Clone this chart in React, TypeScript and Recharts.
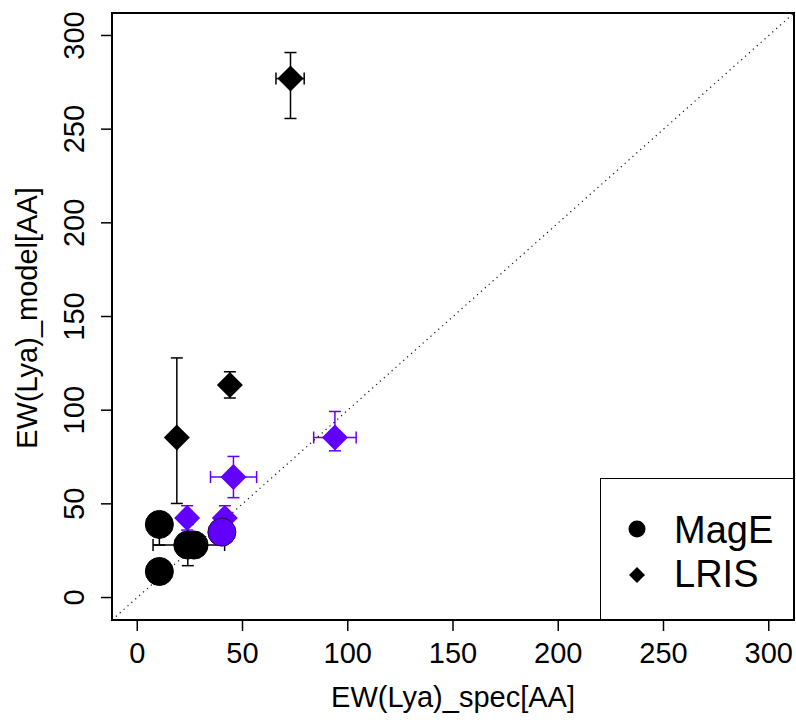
import React from "react";
import {
  ErrorBar,
  ReferenceArea,
  ReferenceLine,
  Scatter,
  ScatterChart,
  XAxis,
  YAxis,
} from "recharts";

const TICKS = [0, 50, 100, 150, 200, 250, 300];
const LIMITS = [-12, 312];
const PURPLE = "#6200ff";
const FONT = "'Liberation Sans', Arial, Helvetica, sans-serif";

// MagE (circles)
const MAGE_BLACK_X = [10.5, 24, 27, 10.5];
const MAGE_BLACK_Y = [39, 28, 28, 13.9];
const MAGE_BLACK_XERR: (number | number[])[] = [0, [16.5, 17.5], 0, 0];
const MAGE_BLACK_YERR: (number | number[])[] = [[11, 3], [11, 11], 0, 0];
const MAGE_PURPLE_X = [40.2];
const MAGE_PURPLE_Y = [34.9];

// LRIS (diamonds)
const LRIS_BLACK_X = [18.8, 44.0, 72.8];
const LRIS_BLACK_Y = [85.4, 113.5, 277];
const LRIS_BLACK_XERR: (number | number[])[] = [0, 0, [6.9, 6.5]];
const LRIS_BLACK_YERR: (number | number[])[] = [[35.2, 42.5], [7, 7], [21.3, 13.9]];
const LRIS_PURPLE_X = [93.9, 45.7, 23.7, 41.6];
const LRIS_PURPLE_Y = [85.4, 64.3, 42.5, 42.5];
const LRIS_PURPLE_XERR: (number | number[])[] = [[10.1, 10.1], [10.9, 11], 0, 0];
const LRIS_PURPLE_YERR: (number | number[])[] = [[7.1, 13.9], [11, 11], [6.5, 6.5], [6.5, 6.5]];

function rows(xs: number[], ys: number[], ex?: (number | number[])[], ey?: (number | number[])[]) {
  return xs.map((x, i) => ({ x, y: ys[i], ex: ex ? ex[i] : 0, ey: ey ? ey[i] : 0 }));
}

const mageBlack = rows(MAGE_BLACK_X, MAGE_BLACK_Y, MAGE_BLACK_XERR, MAGE_BLACK_YERR);
const magePurple = rows(MAGE_PURPLE_X, MAGE_PURPLE_Y);
const lrisBlack = rows(LRIS_BLACK_X, LRIS_BLACK_Y, LRIS_BLACK_XERR, LRIS_BLACK_YERR);
const lrisPurple = rows(LRIS_PURPLE_X, LRIS_PURPLE_Y, LRIS_PURPLE_XERR, LRIS_PURPLE_YERR);

const circleShape = (fill: string, stroke: string) => (p: any) =>
  <circle cx={p.cx} cy={p.cy} r={14} fill={fill} stroke={stroke} strokeWidth={1} />;

const diamondShape = (fill: string) => (p: any) => {
  const h = 13;
  return (
    <path
      d={`M${p.cx},${p.cy - h}L${p.cx + h},${p.cy}L${p.cx},${p.cy + h}L${p.cx - h},${p.cy}Z`}
      fill={fill}
    />
  );
};

function XTick(props: any) {
  return (
    <text x={props.x} y={663} textAnchor="middle" fontSize={29} fontFamily={FONT} fill="#000">
      {props.payload.value}
    </text>
  );
}

function YTick(props: any) {
  const y = props.y;
  return (
    <text x={84} y={y} transform={`rotate(-90 84 ${y})`} textAnchor="middle" fontSize={29} fontFamily={FONT} fill="#000">
      {props.payload.value}
    </text>
  );
}

const XTitle = () => (
  <text x={453} y={707} textAnchor="middle" fontSize={29} fontFamily={FONT} fill="#000">
    EW(Lya)_spec[AA]
  </text>
);

const YTitle = () => (
  <text x={37} y={318} transform="rotate(-90 37 318)" textAnchor="middle" fontSize={29} fontFamily={FONT} fill="#000">
    EW(Lya)_model[AA]
  </text>
);

function LegendBox() {
  return (
    <div
      style={{
        position: "absolute",
        left: 600,
        top: 478,
        width: 194,
        height: 142,
        boxSizing: "border-box",
        border: "1.5px solid #000",
        background: "#fff",
      }}
    >
      <svg width={192} height={140} style={{ display: "block" }}>
        <circle cx={36} cy={50} r={8.5} fill="#000" />
        <path d="M36,88L44,96L36,104L28,96Z" fill="#000" />
        <text x={73} y={64} fontSize={38} fontFamily={FONT} fill="#000">MagE</text>
        <text x={73} y={108} fontSize={38} fontFamily={FONT} fill="#000">LRIS</text>
      </svg>
    </div>
  );
}

export default function App() {
  return (
    <div style={{ position: "absolute", left: 0, top: 0, width: 796, height: 722, background: "#fff" }}>
      <ScatterChart width={796} height={722} margin={{ top: 13, right: 2, bottom: 0, left: 0 }}>
        <XAxis
          type="number"
          dataKey="x"
          domain={LIMITS}
          ticks={TICKS}
          interval={0}
          allowDataOverflow
          axisLine={false}
          tickSize={11}
          tickLine={{ stroke: "#000", strokeWidth: 1.5 }}
          tick={<XTick />}
          height={102}
          label={<XTitle />}
        />
        <YAxis
          type="number"
          dataKey="y"
          domain={LIMITS}
          ticks={TICKS}
          interval={0}
          allowDataOverflow
          axisLine={false}
          tickSize={11}
          tickLine={{ stroke: "#000", strokeWidth: 1.5 }}
          tick={<YTick />}
          width={112}
          label={<YTitle />}
        />
        <ReferenceArea x1={LIMITS[0]} x2={LIMITS[1]} y1={LIMITS[0]} y2={LIMITS[1]} fill="none" stroke="#000" strokeWidth={2} fillOpacity={0} />
        <Scatter data={lrisPurple} shape={diamondShape(PURPLE)} isAnimationActive={false}>
          <ErrorBar dataKey="ex" direction="x" width={6} stroke={PURPLE} strokeWidth={1.5} />
          <ErrorBar dataKey="ey" direction="y" width={6} stroke={PURPLE} strokeWidth={1.5} />
        </Scatter>
        <Scatter data={lrisBlack} shape={diamondShape("#000")} isAnimationActive={false}>
          <ErrorBar dataKey="ex" direction="x" width={6} stroke="#000" strokeWidth={1.5} />
          <ErrorBar dataKey="ey" direction="y" width={6} stroke="#000" strokeWidth={1.5} />
        </Scatter>
        <Scatter data={mageBlack} shape={circleShape("#000", "#000")} isAnimationActive={false}>
          <ErrorBar dataKey="ex" direction="x" width={6} stroke="#000" strokeWidth={1.5} />
          <ErrorBar dataKey="ey" direction="y" width={6} stroke="#000" strokeWidth={1.5} />
        </Scatter>
        <Scatter data={magePurple} shape={circleShape(PURPLE, "#1a0040")} isAnimationActive={false} />
        <ReferenceLine
          segment={[{ x: LIMITS[0], y: LIMITS[0] }, { x: LIMITS[1], y: LIMITS[1] }]}
          stroke="#111"
          strokeWidth={1.2}
          strokeDasharray="1.2 4"
        />
      </ScatterChart>
      <LegendBox />
    </div>
  );
}
